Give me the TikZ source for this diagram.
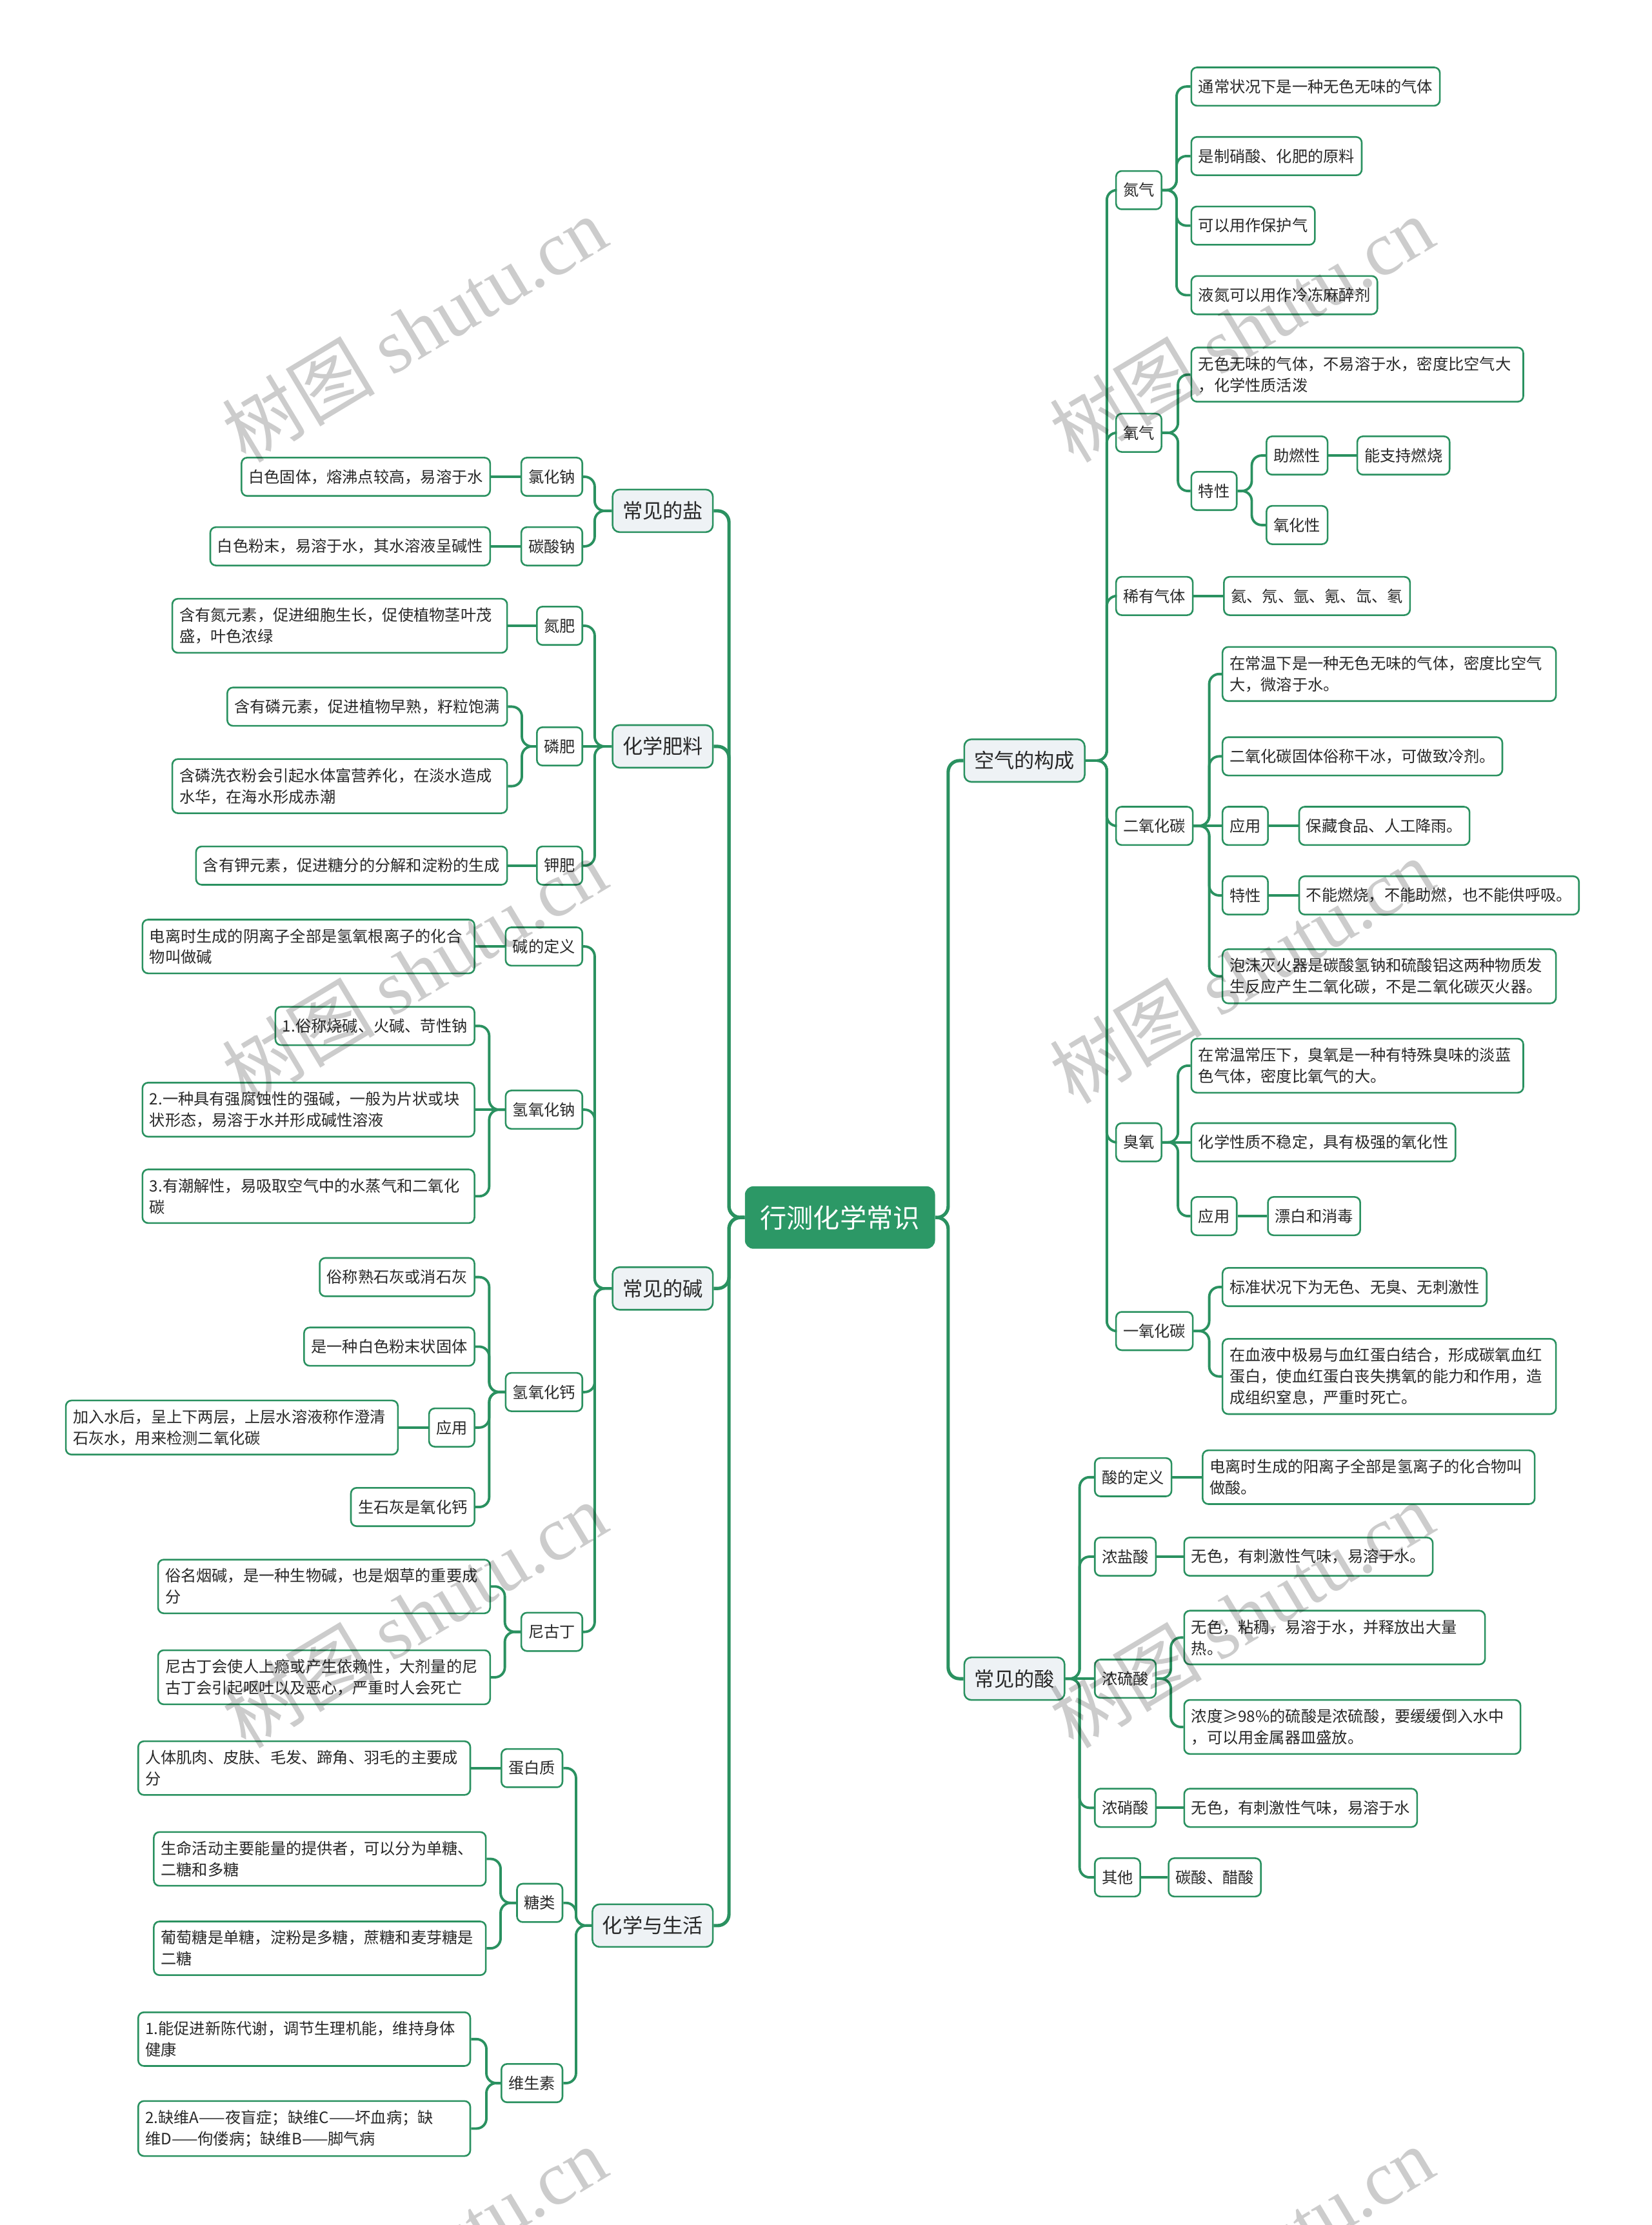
\documentclass[tikz,border=0pt]{standalone}
\usepackage{fontspec}
\setmainfont{Noto Sans CJK SC}
\newfontfamily\wmfont{Liberation Serif}
\definecolor{lg}{RGB}{42,145,96}
\definecolor{rootg}{RGB}{44,152,102}
\definecolor{lonefill}{RGB}{238,242,245}
\definecolor{txt}{RGB}{40,40,40}
\tikzset{
 box/.style={draw=lg, line width=1pt, rounded corners=0.12cm, fill=white, text=txt, inner xsep=0.15cm, inner ysep=0.19cm, minimum height=0.81cm, font=\fontsize{9.4}{12.75}\selectfont},
 ml/.style={box, text width=#1, align=left},
 lone/.style={draw=lg, line width=1pt, rounded corners=0.15cm, fill=lonefill, text=txt, inner xsep=0.21cm, minimum height=0.9cm, font=\fontsize{12.1}{15}\selectfont},
 rootn/.style={fill=rootg, text=white, rounded corners=0.18cm, minimum width=4.02cm, minimum height=1.32cm, font=\fontsize{16}{19}\selectfont},
 conn/.style={draw=lg, line width=1.5pt, rounded corners=0.21cm},
 trunk/.style={draw=lg, line width=2pt, rounded corners=0.24cm},
 wm/.style={text=black, text opacity=0.2, rotate=31, font=\fontsize{46}{50}\selectfont}
}
\begin{document}
\begin{tikzpicture}[x=0.03cm,y=-0.03cm]
\useasboundingbox (0,0) rectangle (1164,1568);
\fill[white] (0,0) rectangle (1164,1568);

% root
\node[rootn] (root) at (592,858) {行测化学常识};

% level 1
\node[lone, anchor=west] (kq) at (679,536) {空气的构成};
\node[lone, anchor=west] (cjs) at (679,1183) {常见的酸};
\node[lone, anchor=east] (yan) at (503,360) {常见的盐};
\node[lone, anchor=east] (fl) at (503,526) {化学肥料};
\node[lone, anchor=east] (jian) at (503,908) {常见的碱};
\node[lone, anchor=east] (sh) at (503,1357) {化学与生活};

% 空气的构成
\node[box, anchor=west] (n2) at (786,134) {氮气};
\node[box, anchor=west] (o2) at (786,305) {氧气};
\node[box, anchor=west] (xy) at (786,420) {稀有气体};
\node[box, anchor=west] (co2) at (786,582) {二氧化碳};
\node[box, anchor=west] (o3) at (786,805) {臭氧};
\node[box, anchor=west] (co) at (786,938) {一氧化碳};

\node[box, anchor=west] (n2a) at (839,61) {通常状况下是一种无色无味的气体};
\node[box, anchor=west] (n2b) at (839,110) {是制硝酸、化肥的原料};
\node[box, anchor=west] (n2c) at (839,159) {可以用作保护气};
\node[box, anchor=west] (n2d) at (839,208) {液氮可以用作冷冻麻醉剂};

\node[ml=6.72cm, anchor=west] (o2a) at (839,264) {无色无味的气体，不易溶于水，密度比空气大\\，化学性质活泼};
\node[box, anchor=west] (o2t) at (839,346) {特性};
\node[box, anchor=west] (o2t1) at (892,321) {助燃性};
\node[box, anchor=west] (o2t1a) at (956,321) {能支持燃烧};
\node[box, anchor=west] (o2t2) at (892,370) {氧化性};

\node[box, anchor=west] (xya) at (862,420) {氦、氖、氩、氪、氙、氡};

\node[ml=6.75cm, anchor=west] (co2a) at (861,475) {在常温下是一种无色无味的气体，密度比空气\\大，微溶于水。};
\node[box, anchor=west] (co2b) at (861,533) {二氧化碳固体俗称干冰，可做致冷剂。};
\node[box, anchor=west] (co2c) at (861,582) {应用};
\node[box, anchor=west] (co2ca) at (915,582) {保藏食品、人工降雨。};
\node[box, anchor=west] (co2d) at (861,631) {特性};
\node[box, anchor=west] (co2da) at (915,631) {不能燃烧，不能助燃，也不能供呼吸。};
\node[ml=6.75cm, anchor=west] (co2e) at (861,688) {泡沫灭火器是碳酸氢钠和硫酸铝这两种物质发\\生反应产生二氧化碳，不是二氧化碳灭火器。};

\node[ml=6.72cm, anchor=west] (o3a) at (839,751) {在常温常压下，臭氧是一种有特殊臭味的淡蓝\\色气体，密度比氧气的大。};
\node[box, anchor=west] (o3b) at (839,805) {化学性质不稳定，具有极强的氧化性};
\node[box, anchor=west] (o3c) at (839,857) {应用};
\node[box, anchor=west] (o3ca) at (893,857) {漂白和消毒};

\node[box, anchor=west] (coa) at (861,907) {标准状况下为无色、无臭、无刺激性};
\node[ml=6.75cm, anchor=west] (cob) at (861,970) {在血液中极易与血红蛋白结合，形成碳氧血红\\蛋白，使血红蛋白丧失携氧的能力和作用，造\\成组织窒息，严重时死亡。};

% 常见的酸
\node[box, anchor=west] (sd) at (771,1041) {酸的定义};
\node[ml=6.72cm, anchor=west] (sda) at (847,1041) {电离时生成的阳离子全部是氢离子的化合物叫\\做酸。};
\node[box, anchor=west] (yhs) at (771,1097) {浓盐酸};
\node[box, anchor=west] (yhsa) at (834,1097) {无色，有刺激性气味，易溶于水。};
\node[box, anchor=west] (lss) at (771,1183) {浓硫酸};
\node[ml=6.06cm, anchor=west] (lssa) at (834,1154) {无色，粘稠，易溶于水，并释放出大量\\热。};
\node[ml=6.81cm, anchor=west] (lssb) at (834,1217) {浓度≥98\%的硫酸是浓硫酸，要缓缓倒入水中\\，可以用金属器皿盛放。};
\node[box, anchor=west] (xs) at (771,1274) {浓硝酸};
\node[box, anchor=west] (xsa) at (834,1274) {无色，有刺激性气味，易溶于水};
\node[box, anchor=west] (qt) at (771,1323) {其他};
\node[box, anchor=west] (qta) at (823,1323) {碳酸、醋酸};

% 常见的盐
\node[box, anchor=east] (nacl) at (411,336) {氯化钠};
\node[box, anchor=east] (nacla) at (346,336) {白色固体，熔沸点较高，易溶于水};
\node[box, anchor=east] (nac) at (411,385) {碳酸钠};
\node[box, anchor=east] (naca) at (346,385) {白色粉末，易溶于水，其水溶液呈碱性};

% 化学肥料
\node[box, anchor=east] (nf) at (411,441) {氮肥};
\node[ml=6.78cm, anchor=east] (nfa) at (358,441) {含有氮元素，促进细胞生长，促使植物茎叶茂\\盛，叶色浓绿};
\node[box, anchor=east] (pf) at (411,526) {磷肥};
\node[box, anchor=east] (pfa) at (358,498) {含有磷元素，促进植物早熟，籽粒饱满};
\node[ml=6.78cm, anchor=east] (pfb) at (358,554) {含磷洗衣粉会引起水体富营养化，在淡水造成\\水华，在海水形成赤潮};
\node[box, anchor=east] (kf) at (411,610) {钾肥};
\node[box, anchor=east] (kfa) at (358,610) {含有钾元素，促进糖分的分解和淀粉的生成};

% 常见的碱
\node[box, anchor=east] (jd) at (411,667) {碱的定义};
\node[ml=6.72cm, anchor=east] (jda) at (335,667) {电离时生成的阴离子全部是氢氧根离子的化合\\物叫做碱};
\node[box, anchor=east] (naoh) at (411,782) {氢氧化钠};
\node[box, anchor=east] (naoha) at (335,723) {1.俗称烧碱、火碱、苛性钠};
\node[ml=6.72cm, anchor=east] (naohb) at (335,782) {2.一种具有强腐蚀性的强碱，一般为片状或块\\状形态，易溶于水并形成碱性溶液};
\node[ml=6.72cm, anchor=east] (naohc) at (335,843) {3.有潮解性，易吸取空气中的水蒸气和二氧化\\碳};
\node[box, anchor=east] (caoh) at (411,981) {氢氧化钙};
\node[box, anchor=east] (caoha) at (335,900) {俗称熟石灰或消石灰};
\node[box, anchor=east] (caohb) at (335,949) {是一种白色粉末状固体};
\node[box, anchor=east] (caohc) at (335,1006) {应用};
\node[ml=6.72cm, anchor=east] (caohca) at (281,1006) {加入水后，呈上下两层，上层水溶液称作澄清\\石灰水，用来检测二氧化碳};
\node[box, anchor=east] (caohd) at (335,1062) {生石灰是氧化钙};
\node[box, anchor=east] (ngd) at (411,1150) {尼古丁};
\node[ml=6.72cm, anchor=east] (ngda) at (346,1118) {俗名烟碱，是一种生物碱，也是烟草的重要成\\分};
\node[ml=6.72cm, anchor=east] (ngdb) at (346,1182) {尼古丁会使人上瘾或产生依赖性，大剂量的尼\\古丁会引起呕吐以及恶心，严重时人会死亡};

% 化学与生活
\node[box, anchor=east] (dbz) at (397,1246) {蛋白质};
\node[ml=6.72cm, anchor=east] (dbza) at (332,1246) {人体肌肉、皮肤、毛发、蹄角、羽毛的主要成\\分};
\node[box, anchor=east] (tl) at (397,1341) {糖类};
\node[ml=6.72cm, anchor=east] (tla) at (343,1310) {生命活动主要能量的提供者，可以分为单糖、\\二糖和多糖};
\node[ml=6.72cm, anchor=east] (tlb) at (343,1373) {葡萄糖是单糖，淀粉是多糖，蔗糖和麦芽糖是\\二糖};
\node[box, anchor=east] (wss) at (397,1468) {维生素};
\node[ml=6.72cm, anchor=east] (wssa) at (332,1437) {1.能促进新陈代谢，调节生理机能，维持身体\\健康};
\node[ml=6.72cm, anchor=east] (wssb) at (332,1500) {2.缺维A——夜盲症；缺维C——坏血病；缺\\维D——佝偻病；缺维B——脚气病};

% ---------- connectors ----------
\foreach \c in {kq,cjs} \draw[trunk] (root.east) -- ++(9,0) |- (\c.west);
\foreach \c in {yan,fl,jian,sh} \draw[trunk] (root.west) -- ++(-11,0) |- (\c.east);

\foreach \c in {n2,o2,xy,co2,o3,co} \draw[conn] (kq.east) -- ++(15,0) |- (\c.west);
\foreach \c in {n2a,n2b,n2c,n2d} \draw[conn] (n2.east) -- ++(10,0) |- (\c.west);
\foreach \c in {o2a,o2t} \draw[conn] (o2.east) -- ++(11,0) |- (\c.west);
\foreach \c in {o2t1,o2t2} \draw[conn] (o2t.east) -- ++(10,0) |- (\c.west);
\draw[conn] (o2t1.east) -- (o2t1a.west);
\draw[conn] (xy.east) -- (xya.west);
\foreach \c in {co2a,co2b,co2d,co2e} \draw[conn] (co2.east) -- ++(11,0) |- (\c.west);
\draw[conn] (co2.east) -- (co2c.west);
\draw[conn] (co2c.east) -- (co2ca.west);
\draw[conn] (co2d.east) -- (co2da.west);
\foreach \c in {o3a,o3c} \draw[conn] (o3.east) -- ++(11,0) |- (\c.west);
\draw[conn] (o3.east) -- (o3b.west);
\draw[conn] (o3c.east) -- (o3ca.west);
\foreach \c in {coa,cob} \draw[conn] (co.east) -- ++(11,0) |- (\c.west);

\foreach \c in {sd,yhs,xs,qt} \draw[conn] (cjs.east) -- ++(10,0) |- (\c.west);
\draw[conn] (cjs.east) -- (lss.west);
\draw[conn] (sd.east) -- (sda.west);
\draw[conn] (yhs.east) -- (yhsa.west);
\draw[conn] (xs.east) -- (xsa.west);
\draw[conn] (qt.east) -- (qta.west);
\foreach \c in {lssa,lssb} \draw[conn] (lss.east) -- ++(10,0) |- (\c.west);

\foreach \c in {nacl,nac} \draw[conn] (yan.west) -- ++(-12,0) |- (\c.east);
\draw[conn] (nacl.west) -- (nacla.east);
\draw[conn] (nac.west) -- (naca.east);
\foreach \c in {nf,kf} \draw[conn] (fl.west) -- ++(-12,0) |- (\c.east);
\draw[conn] (fl.west) -- (pf.east);
\draw[conn] (nf.west) -- (nfa.east);
\draw[conn] (kf.west) -- (kfa.east);
\foreach \c in {pfa,pfb} \draw[conn] (pf.west) -- ++(-10,0) |- (\c.east);

\foreach \c in {jd,naoh,caoh,ngd} \draw[conn] (jian.west) -- ++(-12,0) |- (\c.east);
\draw[conn] (jd.west) -- (jda.east);
\foreach \c in {naoha,naohc} \draw[conn] (naoh.west) -- ++(-11,0) |- (\c.east);
\draw[conn] (naoh.west) -- (naohb.east);
\foreach \c in {caoha,caohb,caohc,caohd} \draw[conn] (caoh.west) -- ++(-11,0) |- (\c.east);
\draw[conn] (caohc.west) -- (caohca.east);
\foreach \c in {ngda,ngdb} \draw[conn] (ngd.west) -- ++(-11,0) |- (\c.east);

\foreach \c in {dbz,tl,wss} \draw[conn] (sh.west) -- ++(-11,0) |- (\c.east);
\draw[conn] (dbz.west) -- (dbza.east);
\foreach \c in {tla,tlb} \draw[conn] (tl.west) -- ++(-11,0) |- (\c.east);
\foreach \c in {wssa,wssb} \draw[conn] (wss.west) -- ++(-10,0) |- (\c.east);

% watermarks
\foreach \wx/\wy [count=\i] in {292/232, 875/232, 292/684, 875/684, 292/1138, 875/1138, 292/1592, 875/1592}
  \node[wm] (wm\i) at (\wx,\wy) {树图 {\wmfont shutu.cn}};
\end{tikzpicture}
\end{document}
